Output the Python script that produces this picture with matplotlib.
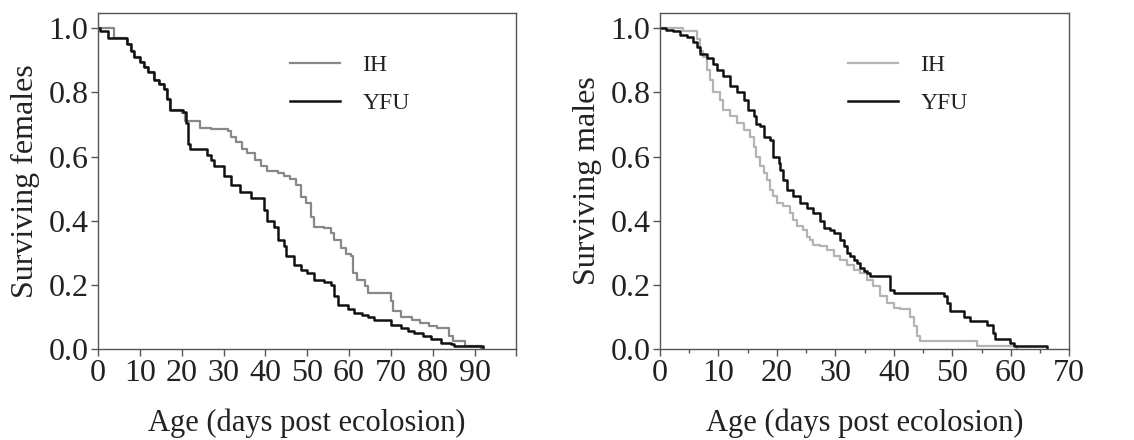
import matplotlib
matplotlib.use("Agg")
import matplotlib.pyplot as plt
from matplotlib.ticker import MultipleLocator, FormatStrFormatter

plt.rcParams['font.family'] = ['Liberation Serif', 'DejaVu Serif']

# females: (day, surviving fraction) at each step
fem_ih_days = [0, 3.8, 7, 8, 8.5, 10, 11, 12, 13.3, 14.5, 15.7, 16.5, 17.3, 20, 20.8, 24.5,
               27, 31, 31.8, 33, 34.5, 35.7, 37.5, 39, 40.5, 43, 44.5, 46, 47.3, 48.5, 49.6,
               50.9, 51.6, 54, 55.7, 56.5, 58, 59.3, 60.5, 61, 62, 63.7, 64.5, 70, 70.6,
               72.4, 75, 77, 79, 81, 83.8, 84.8, 87.6, 91.6]
fem_ih_vals = [1.0, 0.97, 0.95, 0.93, 0.91, 0.895, 0.88, 0.865, 0.84, 0.825, 0.81, 0.78,
               0.745, 0.735, 0.71, 0.69, 0.685, 0.68, 0.66, 0.645, 0.625, 0.61, 0.59, 0.57,
               0.555, 0.55, 0.54, 0.53, 0.51, 0.475, 0.455, 0.41, 0.38, 0.377, 0.36, 0.34,
               0.315, 0.295, 0.29, 0.237, 0.216, 0.195, 0.175, 0.15, 0.117, 0.10, 0.09,
               0.08, 0.07, 0.065, 0.04, 0.024, 0.01, 0.0]

fem_yfu_days = [0, 0.5, 2.5, 7, 8, 8.5, 10, 11, 12, 13.3, 14.5, 15.7, 16.5, 17.3, 20.3, 21,
                21.5, 22, 26, 27, 27.7, 30, 31.7, 34, 36.5, 39.7, 40.5, 42, 43, 44.5, 45,
                46.9, 48.5, 50, 51.7, 54, 55.7, 56.5, 57.3, 59.7, 61.3, 63, 64.5, 66, 70,
                72.4, 74, 75.6, 77.6, 79.6, 82, 84.4, 85.2, 92]
fem_yfu_vals = [1.0, 0.99, 0.97, 0.95, 0.93, 0.91, 0.895, 0.88, 0.865, 0.84, 0.825, 0.81,
                0.78, 0.745, 0.74, 0.705, 0.64, 0.625, 0.605, 0.59, 0.57, 0.54, 0.51, 0.49,
                0.47, 0.434, 0.40, 0.38, 0.34, 0.32, 0.29, 0.263, 0.247, 0.237, 0.216, 0.21,
                0.20, 0.164, 0.138, 0.123, 0.112, 0.107, 0.10, 0.09, 0.076, 0.065, 0.055,
                0.05, 0.04, 0.03, 0.02, 0.014, 0.008, 0.0]

# males
mal_ih_days = [0, 4, 6.3, 6.8, 7.4, 8, 8.6, 9.1, 10.3, 10.8, 12, 13.1, 14.3, 15.4, 16, 16.5,
               17.1, 17.7, 18.3, 18.8, 19.4, 20, 21.1, 22.2, 22.8, 23.4, 24.5, 25.1, 25.7,
               26.2, 27.4, 28.5, 29.7, 30.8, 31.9, 33.1, 34.2, 35.4, 36.5, 37.7, 38.8, 40,
               41.1, 42.8, 43.4, 43.9, 44.5, 54.2, 61]
mal_ih_vals = [1.0, 0.99, 0.965, 0.93, 0.91, 0.87, 0.84, 0.80, 0.777, 0.745, 0.725, 0.705,
               0.683, 0.66, 0.63, 0.60, 0.57, 0.55, 0.527, 0.496, 0.476, 0.455, 0.445, 0.424,
               0.403, 0.382, 0.372, 0.35, 0.34, 0.325, 0.32, 0.31, 0.289, 0.278, 0.263,
               0.247, 0.237, 0.216, 0.195, 0.164, 0.143, 0.128, 0.123, 0.10, 0.07, 0.04,
               0.024, 0.008, 0.0]

mal_yfu_days = [0, 1.1, 2.3, 3.4, 4.6, 5.7, 6.3, 6.8, 8, 9.1, 9.7, 10.8, 12, 13.1, 14.3,
                15.1, 16, 16.5, 17.1, 17.7, 18.8, 19.4, 20.3, 20.5, 21.1, 21.7, 22.8, 24,
                25.1, 26.2, 27.4, 28, 29.1, 29.7, 30.8, 31.4, 31.9, 32.5, 33.1, 33.7, 34.2,
                34.8, 35.4, 35.9, 39.4, 40, 48.5, 49, 49.6, 51.9, 53, 55.9, 57, 57.3, 59.9,
                60.5, 66.2]
mal_yfu_vals = [1.0, 0.995, 0.99, 0.98, 0.974, 0.958, 0.943, 0.92, 0.907, 0.89, 0.87, 0.85,
                0.82, 0.80, 0.777, 0.745, 0.725, 0.70, 0.694, 0.66, 0.65, 0.60, 0.58, 0.558,
                0.527, 0.496, 0.476, 0.455, 0.44, 0.424, 0.40, 0.377, 0.372, 0.36, 0.34,
                0.32, 0.30, 0.29, 0.278, 0.268, 0.252, 0.242, 0.237, 0.226, 0.185, 0.174,
                0.164, 0.143, 0.117, 0.10, 0.086, 0.076, 0.05, 0.03, 0.019, 0.008, 0.0]

fig = plt.figure(figsize=(11.34, 4.4), dpi=100)
ax1 = fig.add_axes([0.0864, 0.207, 0.369, 0.763])
ax2 = fig.add_axes([0.582, 0.207, 0.361, 0.763])


def style(ax):
    for s in ax.spines.values():
        s.set_color('#555555')
        s.set_linewidth(1.0)
    ax.set_ylim(0, 1.047)
    ax.yaxis.set_major_locator(MultipleLocator(0.2))
    ax.yaxis.set_major_formatter(FormatStrFormatter('%.1f'))
    ax.tick_params(direction='out', length=5, width=1, colors='#555555',
                   labelcolor='#222222', labelsize=23, pad=2)
    ax.tick_params(which='minor', direction='out', length=3, width=1, colors='#555555')
    ax.set_xlabel('Age (days post ecolosion)', fontsize=22, color='#222222', labelpad=15)
    leg = ax.legend(loc='upper left', bbox_to_anchor=(0.46, 0.877), frameon=False,
                    fontsize=17, handlelength=2.1, handletextpad=0.95, labelspacing=0.7,
                    borderpad=0, borderaxespad=0)
    for t in leg.get_texts():
        t.set_color('#222222')


ax1.step(fem_ih_days, fem_ih_vals, where='post', color='#888888', lw=1.6, label='IH')
ax1.step(fem_yfu_days, fem_yfu_vals, where='post', color='#111111', lw=1.8, label='YFU')
ax1.set_xlim(0, 100)
ax1.set_xticks(range(0, 101, 10))
ax1.set_xticklabels([str(v) for v in range(0, 91, 10)] + [''])
ax1.set_ylabel('Surviving females', fontsize=23, color='#222222', labelpad=6)
style(ax1)

ax2.step(mal_ih_days, mal_ih_vals, where='post', color='#b4b4b4', lw=1.6, label='IH')
ax2.step(mal_yfu_days, mal_yfu_vals, where='post', color='#111111', lw=1.8, label='YFU')
ax2.set_xlim(0, 70)
ax2.xaxis.set_major_locator(MultipleLocator(10))
ax2.xaxis.set_minor_locator(MultipleLocator(5))
ax2.set_ylabel('Surviving males', fontsize=23, color='#222222', labelpad=6)
style(ax2)

fig.savefig('out.png', dpi=100, facecolor='w')
